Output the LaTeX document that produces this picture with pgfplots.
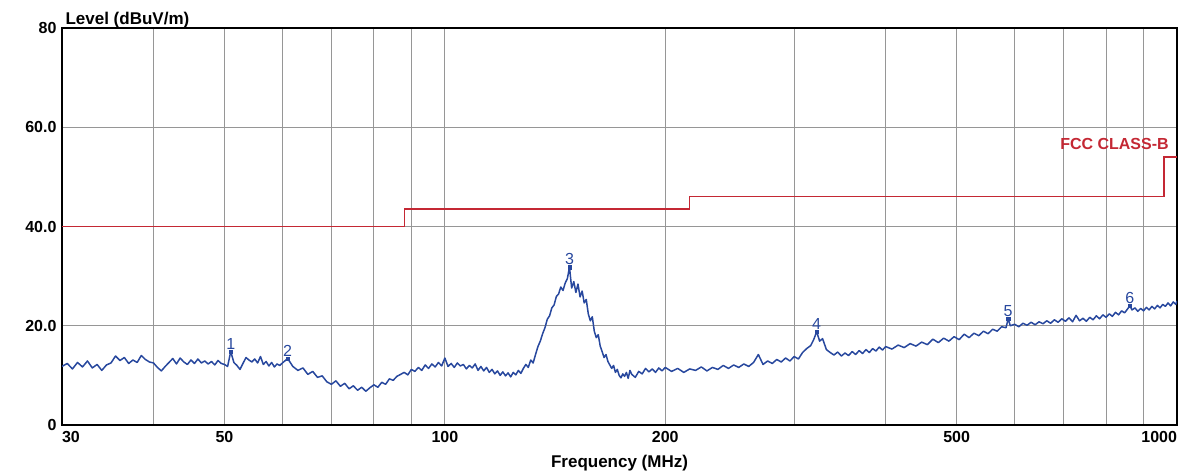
\documentclass[border=0pt]{standalone}
\usepackage{fontspec}
\setmainfont{Liberation Sans}
\usepackage{pgfplots}
\usepackage{pgfplotstable}
\pgfplotsset{compat=1.18}

\definecolor{trace}{RGB}{40,72,158}
\definecolor{limit}{RGB}{196,40,52}
\definecolor{gridc}{RGB}{150,150,150}

% measured trace, frequency (MHz) vs level (dBuV/m)
\pgfplotstableread{
f y
30 11.8
30.5 12.4
31 11.3
31.5 12.6
32 11.7
32.5 12.9
33 11.5
33.5 12.2
34 11.0
34.5 12.1
35 12.5
35.5 13.9
36 13.0
36.5 13.6
37 12.4
37.5 13.1
38 12.6
38.5 14.0
39 13.2
39.5 12.7
40 12.5
40.5 11.6
41 10.9
41.5 11.8
42 12.6
42.5 13.4
43 12.3
43.5 13.5
44 12.7
44.5 12.2
45 13.1
45.5 12.4
46 13.3
46.5 12.5
47 12.9
47.5 12.3
48 12.8
48.5 12.1
49 13.0
49.5 12.4
50 12.2
50.5 11.8
51 14.8
51.5 12.6
52 12.0
52.5 11.2
53 12.4
53.5 13.6
54 13.1
54.5 12.7
55 13.3
55.5 12.5
56 13.8
56.5 12.2
57 12.8
57.5 11.9
58 12.6
58.5 11.7
59 12.3
59.5 12.0
60 12.5
61 13.4
62 11.8
63 11.0
64 11.5
65 10.2
66 10.8
67 9.6
68 9.9
69 8.7
70 8.2
71 8.9
72 7.8
73 8.4
74 7.3
75 7.9
76 7.0
77 7.6
78 6.8
79 7.5
80 8.1
81 7.6
82 8.6
83 8.2
84 9.3
85 9.0
86 9.8
87 10.2
88 10.6
89 10.1
90 11.2
91 10.8
92 11.6
93 11.0
94 12.1
95 11.4
96 12.3
97 11.7
98 12.6
99 11.9
100 13.5
101 11.8
102 12.4
103 11.6
104 12.5
105 11.9
106 12.2
107 11.3
108 12.0
109 11.5
110 12.3
111 11.0
112 11.8
113 10.9
114 11.6
115 10.6
116 11.2
117 10.3
118 10.9
119 10.0
120 10.7
121 9.9
122 10.5
123 9.7
124 10.6
125 10.1
126 11.0
127 10.4
128 11.4
129 12.2
130 11.6
131 13.1
132 12.5
133 14.2
134 15.8
135 16.9
136 18.4
137 19.6
138 21.3
139 22.0
140 23.6
141 24.2
142 25.9
143 26.4
144 27.8
145 27.1
146 28.6
147 29.5
148 31.8
149 27.6
150 28.9
151 26.7
152 28.4
153 25.8
154 27.0
155 24.6
156 25.3
157 22.4
158 21.0
159 21.8
160 18.9
161 17.6
162 18.2
163 15.9
164 14.8
165 13.6
166 14.2
167 12.8
168 12.1
169 11.4
170 12.0
171 10.6
172 11.2
173 10.0
174 9.5
175 10.3
176 9.8
177 10.6
178 9.4
179 11.0
180 10.2
182 9.6
184 10.8
186 10.3
188 11.4
190 10.7
192 11.3
194 10.6
196 11.5
198 10.9
200 11.6
204 10.8
208 11.4
212 10.6
216 11.3
220 11.0
224 11.7
228 10.9
232 11.6
236 11.2
240 12.0
244 11.4
248 12.1
252 11.6
256 12.3
260 11.8
264 12.6
268 14.2
272 12.2
276 12.9
280 12.4
284 13.2
288 12.7
292 13.5
296 12.9
300 13.8
304 13.3
308 14.6
312 15.4
316 16.0
319 17.2
322 18.8
325 16.9
328 17.4
332 15.2
336 14.6
340 14.1
344 14.7
348 13.9
352 14.5
356 14.0
360 14.8
364 14.2
368 15.0
372 14.4
376 15.2
380 14.6
384 15.4
388 14.9
392 15.7
396 15.1
400 15.8
408 15.3
416 16.1
424 15.6
432 16.4
440 15.9
448 16.7
456 16.2
464 17.3
472 16.6
480 17.5
488 16.9
496 17.8
504 17.2
512 18.3
520 17.6
528 18.5
536 18.0
544 18.9
552 18.4
560 19.3
568 18.9
576 19.8
584 19.6
588 21.4
592 20.0
600 20.3
608 19.8
616 20.5
624 20.1
632 20.7
640 20.2
648 20.8
656 20.4
664 21.0
672 20.5
680 21.2
688 20.7
696 21.4
704 20.9
712 21.6
720 20.8
728 22.1
736 21.0
744 21.5
752 20.9
760 21.7
768 21.2
776 22.0
784 21.4
792 22.2
800 21.7
808 22.4
816 21.9
824 22.7
832 22.2
840 23.0
848 22.6
856 23.4
862 24.0
868 23.2
876 23.6
884 22.9
892 23.5
900 23.0
908 23.7
916 23.2
924 23.9
932 23.4
940 24.1
948 23.6
956 24.3
964 23.9
972 24.6
980 24.0
988 24.8
996 24.3
1000 25.0
}\tracedata

\pgfplotstableread{
f y label
51 14.8 1
61 13.4 2
148 31.8 3
322 18.8 4
588 21.4 5
862 24.0 6
}\peaks

\begin{document}
\begin{tikzpicture}
\path[use as bounding box] (0,0) rectangle (1199pt,476pt);
\begin{axis}[
  at={(62pt,51pt)}, anchor=south west,
  width=1115pt, height=397pt, scale only axis,
  xmode=log, xmin=30, xmax=1000, ymin=0, ymax=80,
  xtick={30,40,50,60,70,80,90,100,200,300,400,500,600,700,800,900,1000},
  xticklabels={\makebox[0pt][l]{30},,50,,,,,100,200,,,500,,,,,\makebox[0pt][r]{1000}},
  ytick={0,20,40,60,80},
  yticklabels={0,20.0,40.0,60.0,80},
  major tick length=0pt,
  grid=major,
  grid style={gridc, line width=0.9pt},
  axis line style={black, line width=1.3pt},
  /pgf/number format/assume math mode=true,
  ticklabel style={font=\bfseries\fontsize{16}{16}\selectfont},
  xticklabel style={yshift=-3pt},
  yticklabel style={xshift=-2pt},
  xlabel={Frequency (MHz)},
  xlabel style={font=\bfseries\fontsize{17}{17}\selectfont, yshift=-5pt},
  ylabel={Level (dBuV/m)},
  ylabel style={font=\bfseries\fontsize{17}{17}\selectfont, rotate=-90,
    at={(axis description cs:0,1)}, anchor=south west, yshift=-4pt},
]
\addplot[limit, line width=1.3pt, const plot] coordinates
  {(30,40) (88,43.5) (216,46) (960,54) (1000,54)};
\addplot[trace, line width=1.5pt, line join=round] table[x=f, y=y] {\tracedata};
\addplot[only marks, mark=square*, mark size=1.6pt, color=trace,
  nodes near coords, point meta=explicit symbolic,
  every node near coord/.style={font=\fontsize{16}{16}\selectfont, color=trace, anchor=south, inner sep=1pt, yshift=1pt}]
  table[x=f, y=y, meta=label] {\peaks};
\node[limit, anchor=east, font=\bfseries\fontsize{16}{16}\selectfont] at (axis cs:985,56.6) {FCC CLASS-B};
\end{axis}
\end{tikzpicture}
\end{document}
